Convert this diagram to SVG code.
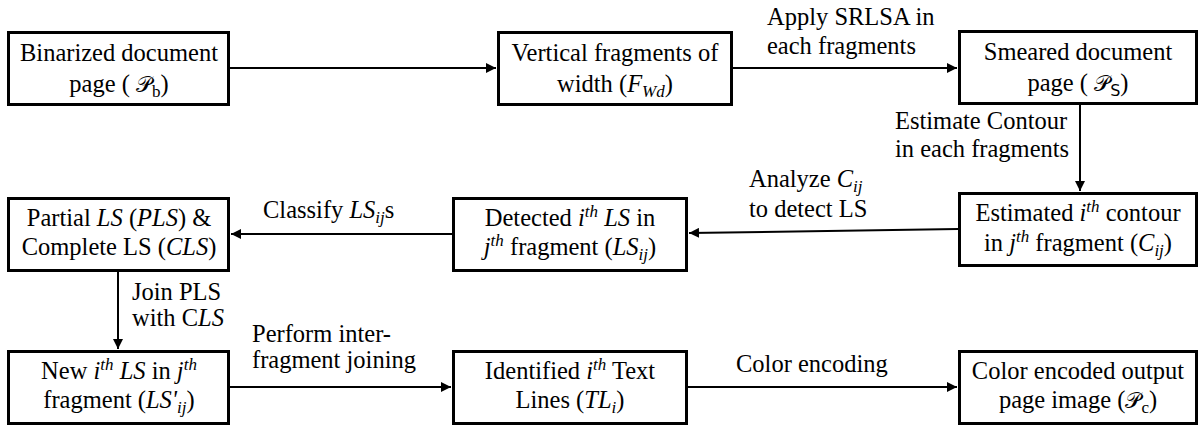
<svg xmlns="http://www.w3.org/2000/svg" width="1200" height="429" viewBox="0 0 1200 429">
<style>
  text { font-family: "Liberation Serif", "DejaVu Serif", "Noto Serif", "Times New Roman", serif; font-size: 24.5px; fill: #000; }
  .c { text-anchor: middle; }
  .i { font-style: italic; }
  .s { font-size: 17px; }
  .m { font-family: "DejaVu Serif", "DejaVu Sans", serif; font-size: 22px; }
  .ss { font-family: "DejaVu Sans", "Liberation Sans", sans-serif; font-size: 16px; }
  rect.box { fill: #fff; stroke: #000; stroke-width: 3; }
  .conn line { stroke: #000; stroke-width: 2; fill: none; }
</style>
<defs>
  <marker id="ah" viewBox="0 0 10 10" refX="10" refY="5" markerWidth="5" markerHeight="5" orient="auto" markerUnits="strokeWidth">
    <path d="M0,0 L10,5 L0,10 z" fill="#000"/>
  </marker>
</defs>
<rect width="1200" height="429" fill="#fff"/>

<g id="connectors" class="conn">
  <line x1="230" y1="68" x2="496" y2="68" marker-end="url(#ah)"/>
  <line x1="733" y1="68" x2="957" y2="68" marker-end="url(#ah)"/>
  <line x1="1080" y1="105" x2="1080" y2="191" marker-end="url(#ah)"/>
  <line x1="958" y1="229" x2="689" y2="233" marker-end="url(#ah)"/>
  <line x1="452" y1="234" x2="231" y2="234" marker-end="url(#ah)"/>
  <line x1="118" y1="271" x2="118" y2="349" marker-end="url(#ah)"/>
  <line x1="230" y1="387" x2="451" y2="387" marker-end="url(#ah)"/>
  <line x1="688" y1="387" x2="957" y2="387" marker-end="url(#ah)"/>
</g>

<g id="edge-labels">
  <text x="767" y="25">Apply SRLSA in</text>
  <text x="767" y="54">each fragments</text>
  <text x="895" y="129">Estimate Contour</text>
  <text x="895" y="157">in each fragments</text>
  <text x="749" y="187">Analyze <tspan class="i">C</tspan><tspan class="i s" dy="5">ij</tspan></text>
  <text x="749" y="217">to detect LS</text>
  <text x="263" y="218">Classify <tspan class="i">LS</tspan><tspan class="i s" dy="5">ij</tspan><tspan dy="-5">s</tspan></text>
  <text x="132" y="300">Join PLS</text>
  <text x="132" y="326">with C<tspan class="i">LS</tspan></text>
  <text x="252" y="342">Perform inter-</text>
  <text x="252" y="368">fragment joining</text>
  <text x="736" y="372">Color encoding</text>
</g>

<g id="n1">
  <rect class="box" x="8.5" y="32.5" width="220" height="72"/>
  <text class="c" x="119" y="61">Binarized document</text>
  <text class="c" x="119" y="92">page ( <tspan class="m">𝒫</tspan><tspan class="s" dy="5">b</tspan><tspan dy="-5">)</tspan></text>
</g>

<g id="n2">
  <rect class="box" x="498.5" y="32.5" width="233" height="72"/>
  <text class="c" x="615" y="61">Vertical fragments of</text>
  <text class="c" x="615" y="92">width (<tspan class="i">F</tspan><tspan class="i s" dy="5">Wd</tspan><tspan dy="-5">)</tspan></text>
</g>

<g id="n3">
  <rect class="box" x="959.5" y="31.5" width="237" height="72"/>
  <text class="c" x="1078" y="60">Smeared document</text>
  <text class="c" x="1078" y="91">page ( <tspan class="m">𝒫</tspan><tspan class="ss" dy="5">S</tspan><tspan dy="-5">)</tspan></text>
</g>

<g id="n4">
  <rect class="box" x="959.5" y="193.5" width="237" height="72"/>
  <text class="c" x="1078" y="221">Estimated <tspan class="i">i</tspan><tspan class="i s" dy="-9">th</tspan><tspan dy="9"> contour</tspan></text>
  <text class="c" x="1078" y="251">in <tspan class="i">j</tspan><tspan class="i s" dy="-9">th</tspan><tspan dy="9"> fragment (</tspan><tspan class="i">C</tspan><tspan class="i s" dy="5">ij</tspan><tspan dy="-5">)</tspan></text>
</g>

<g id="n5">
  <rect class="box" x="453.5" y="198.5" width="233" height="72"/>
  <text class="c" x="570" y="226">Detected <tspan class="i">i</tspan><tspan class="i s" dy="-9">th</tspan><tspan dy="9"> </tspan><tspan class="i">LS</tspan> in</text>
  <text class="c" x="570" y="255"><tspan class="i">j</tspan><tspan class="i s" dy="-9">th</tspan><tspan dy="9"> fragment (</tspan><tspan class="i">LS</tspan><tspan class="i s" dy="5">ij</tspan><tspan dy="-5">)</tspan></text>
</g>

<g id="n6">
  <rect class="box" x="8.5" y="198.5" width="220" height="72"/>
  <text class="c" x="119" y="226">Partial <tspan class="i">LS</tspan> (<tspan class="i">PLS</tspan>) &amp;</text>
  <text class="c" x="119" y="255">Complete LS (<tspan class="i">CLS</tspan>)</text>
</g>

<g id="n7">
  <rect class="box" x="8.5" y="351.5" width="220" height="72"/>
  <text class="c" x="119" y="379">New <tspan class="i">i</tspan><tspan class="i s" dy="-9">th</tspan><tspan dy="9"> </tspan><tspan class="i">LS</tspan> in <tspan class="i">j</tspan><tspan class="i s" dy="-9">th</tspan></text>
  <text class="c" x="119" y="408">fragment (<tspan class="i">LS'</tspan><tspan class="i s" dy="5">ij</tspan><tspan dy="-5">)</tspan></text>
</g>

<g id="n8">
  <rect class="box" x="453.5" y="351.5" width="233" height="72"/>
  <text class="c" x="570" y="379">Identified <tspan class="i">i</tspan><tspan class="i s" dy="-9">th</tspan><tspan dy="9"> Text</tspan></text>
  <text class="c" x="570" y="408">Lines (<tspan class="i">TL</tspan><tspan class="i s" dy="5">i</tspan><tspan dy="-5">)</tspan></text>
</g>

<g id="n9">
  <rect class="box" x="959.5" y="351.5" width="237" height="72"/>
  <text class="c" x="1078" y="379">Color encoded output</text>
  <text class="c" x="1078" y="408">page image (<tspan class="m">𝒫</tspan><tspan class="s" dy="5">c</tspan><tspan dy="-5">)</tspan></text>
</g>
</svg>
